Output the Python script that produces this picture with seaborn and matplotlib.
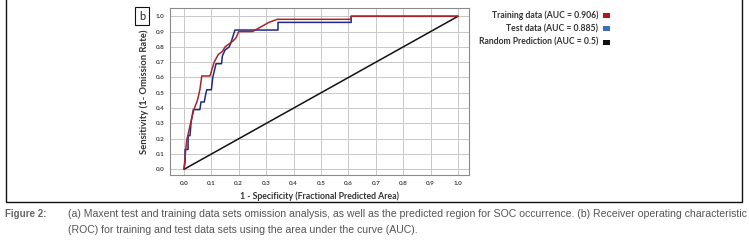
import numpy as np
import pandas as pd
import seaborn as sns
from matplotlib import pyplot as plt
from matplotlib.patches import Rectangle

# ROC curve points
train_fpr = [0.0, 0.005, 0.01, 0.024, 0.036, 0.049, 0.058, 0.065, 0.095, 0.11, 0.125, 0.14, 0.15,
             0.165, 0.18, 0.19, 0.20, 0.25, 0.27, 0.29, 0.31, 0.34, 0.61, 0.61, 1.0]
train_tpr = [0.0, 0.10, 0.19, 0.30, 0.39, 0.45, 0.52, 0.61, 0.61, 0.70, 0.75, 0.77, 0.80,
             0.82, 0.84, 0.86, 0.90, 0.90, 0.92, 0.94, 0.96, 0.98, 0.98, 1.0, 1.0]

test_fpr = [0.0, 0.004, 0.004, 0.015, 0.015, 0.022, 0.026, 0.034, 0.058, 0.062, 0.074, 0.078, 0.083,
            0.10, 0.105, 0.117, 0.137, 0.14, 0.15, 0.165, 0.17, 0.186, 0.343, 0.343, 0.61, 0.61, 1.0]
test_tpr = [0.0, 0.05, 0.13, 0.13, 0.22, 0.22, 0.31, 0.39, 0.39, 0.44, 0.44, 0.48, 0.52,
            0.52, 0.60, 0.69, 0.69, 0.74, 0.78, 0.80, 0.82, 0.91, 0.91, 0.96, 0.96, 1.0, 1.0]

random_fpr = [0.0, 1.0]
random_tpr = [0.0, 1.0]

legend_labels = ["Training data (AUC = 0.906)", "Test data (AUC = 0.885)", "Random Prediction (AUC = 0.5)"]
legend_colors = ["#b3141d", "#3d6fc0", "#111111"]
ticks = [0.0, 0.1, 0.2, 0.3, 0.4, 0.5, 0.6, 0.7, 0.8, 0.9, 1.0]

caption_1 = ("(a) Maxent test and training data sets omission analysis, as well as the predicted region for SOC occurrence. "
             "(b) Receiver operating characteristic")
caption_2 = "(ROC) for training and test data sets using the area under the curve (AUC)."

sns.set_style("whitegrid")
plt.rcParams['font.family'] = ['Lato', 'DejaVu Sans']

W, H = 749, 245
fig = plt.figure(figsize=(W / 100, H / 100), dpi=100)

def fx(px):
    return px / W

def fy(py):
    return 1 - py / H

ax = fig.add_axes([fx(170), fy(175), fx(469) - fx(170), fy(8) - fy(175)])

df_train = pd.DataFrame({"fpr": train_fpr, "tpr": train_tpr})
df_test = pd.DataFrame({"fpr": test_fpr, "tpr": test_tpr})
df_rand = pd.DataFrame({"fpr": random_fpr, "tpr": random_tpr})

sns.lineplot(data=df_rand, x="fpr", y="tpr", sort=False, estimator=None, color="#111111", lw=1.1, ax=ax)
sns.lineplot(data=df_test, x="fpr", y="tpr", sort=False, estimator=None, color="#1e2a86", lw=1.1, ax=ax)
sns.lineplot(data=df_train, x="fpr", y="tpr", sort=False, estimator=None, color="#a8232c", lw=1.1, ax=ax)

ax.set_xlim(-0.051, 1.04)
ax.set_ylim(-0.037, 1.054)
ax.set_xticks(ticks)
ax.set_yticks(ticks)
ax.set_xticklabels(["%.1f" % t for t in ticks])
ax.set_yticklabels(["%.1f" % t for t in ticks])
ax.tick_params(labelsize=4.6, colors="#444444", length=2, width=0.6, pad=2)
for lab in ax.get_xticklabels() + ax.get_yticklabels():
    lab.set_fontweight("bold")
ax.grid(True, color="#c8c8c8", lw=0.7)
for s in ax.spines.values():
    s.set_color("#8a8a8a")
    s.set_linewidth(0.8)
ax.set_xlabel("1 - Specificity (Fractional Predicted Area)", fontsize=6.3, fontweight="bold", color="#333333", labelpad=4)
ax.set_ylabel("Sensitivity (1- Omission Rate)", fontsize=6.8, fontweight="bold", color="#333333", labelpad=5)

# panel letter
fig.text(fx(142), fy(16), "b", fontsize=8, ha="center", va="center", color="#222222",
         bbox=dict(boxstyle="square,pad=0.35", fc="white", ec="#111111", lw=0.8))

# legend
for i, (lab, col) in enumerate(zip(legend_labels, legend_colors)):
    y = 15.5 + i * 13.4
    fig.text(fx(598), fy(y), lab, fontsize=6.2, fontweight="bold", ha="right", va="center", color="#333333")
    fig.patches.append(Rectangle((fx(603), fy(y + 2.5)), fx(7), fy(0) - fy(5), transform=fig.transFigure,
                                 fc=col, ec="none"))

# outer frame
fig.patches.append(Rectangle((fx(6), fy(202)), fx(742) - fx(6), fy(-2) - fy(202), transform=fig.transFigure,
                             fill=False, ec="#111111", lw=1.0))

# caption (fit first line to its width in the reference)
cap_font = ['Liberation Sans', 'DejaVu Sans']
fig.text(fx(5), fy(214), "Figure 2:", fontsize=7.0, fontweight="bold", color="#666666", va="center", family=cap_font)
t1 = fig.text(fx(68), fy(214), caption_1, fontsize=7.4, color="#555555", va="center", family=cap_font)
renderer = fig.canvas.get_renderer()
w = t1.get_window_extent(renderer).width
size = 7.4 * 676 / w
t1.set_fontsize(size)
fig.text(fx(68), fy(230), caption_2, fontsize=size, color="#555555", va="center", family=cap_font)

fig.savefig("out.png", dpi=100)
